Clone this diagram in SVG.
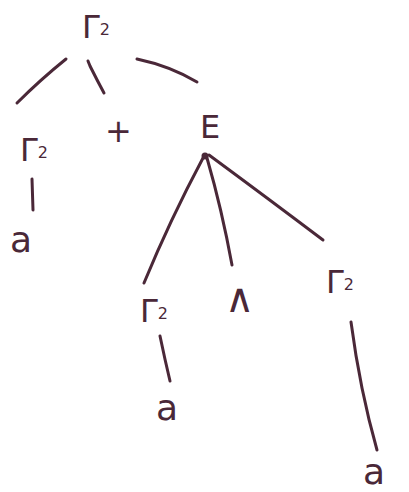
<svg xmlns="http://www.w3.org/2000/svg" width="409" height="492" viewBox="0 0 409 492">
<style>
.lbl{font-family:"DejaVu Sans","Liberation Sans",sans-serif;fill:#4a2838;font-size:32px}
.sub{font-size:16px}
.a{font-size:36px}
.big{font-size:40px}
.e{fill:none;stroke:#4a2838;stroke-width:3;stroke-linecap:round}
</style>
<rect width="409" height="492" fill="#fff"/>
<g id="connectors">
<path class="e" d="M66 59 Q40 80 17 103"/>
<path class="e" d="M88 61 L90 66 Q97 80 104 93"/>
<path class="e" d="M137 59 Q170 66 197 82"/>
<path class="e" d="M32 179 L33 210"/>
<circle cx="205" cy="156" r="3.5" fill="#4a2838"/>
<path class="e" d="M203 158 Q170 220 144 283"/>
<path class="e" d="M207 158 Q222 210 232 265"/>
<path class="e" d="M209 155 Q270 200 323 240"/>
<path class="e" d="M160 336 Q165 360 170 381"/>
<path class="e" d="M351 322 Q360 390 377 450"/>
</g>
<g id="n-root"><text class="lbl" x="82" y="38">Γ<tspan class="sub" dy="-3">2</tspan></text></g>
<g id="n-left"><text class="lbl" x="20" y="161">Γ<tspan class="sub" dy="-3">2</tspan></text></g>
<g id="n-a1"><text class="lbl a" x="10" y="252">a</text></g>
<g id="n-plus"><text class="lbl" x="105" y="142">+</text></g>
<g id="n-E"><text class="lbl" x="200" y="138">E</text></g>
<g id="n-mid"><text class="lbl" x="140" y="322">Γ<tspan class="sub" dy="-3">2</tspan></text></g>
<g id="n-caret"><text class="lbl big" x="225" y="312">∧</text></g>
<g id="n-a2"><text class="lbl a" x="156" y="420">a</text></g>
<g id="n-right"><text class="lbl" x="326" y="293">Γ<tspan class="sub" dy="-3">2</tspan></text></g>
<g id="n-a3"><text class="lbl a" x="363" y="484">a</text></g>
</svg>
